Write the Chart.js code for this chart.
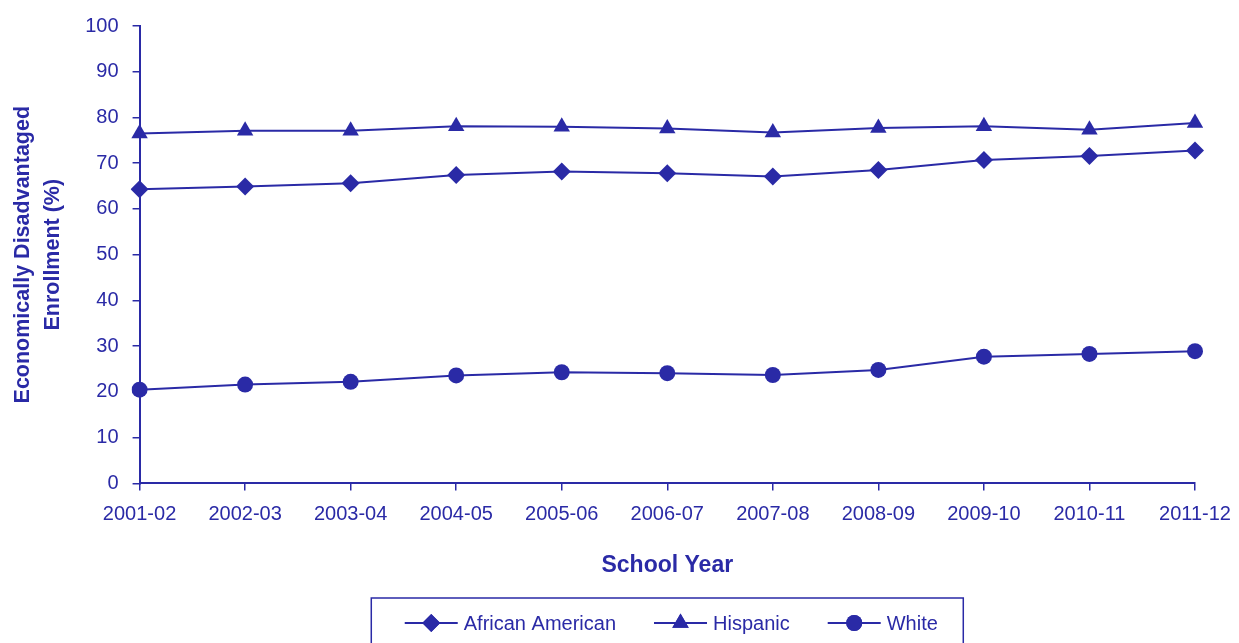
<!DOCTYPE html>
<html>
<head>
<meta charset="utf-8">
<script src="https://cdn.jsdelivr.net/npm/chart.js@4/dist/chart.umd.min.js"></script>
<style>
  html, body { margin: 0; padding: 0; background: #fff; }
  #wrap { width: 1239px; height: 643px; }
</style>
</head>
<body>
<div id="wrap"><canvas id="enrollChart" width="1239" height="643"></canvas></div>
<script>
var schoolYears = ['2001-02', '2002-03', '2003-04', '2004-05', '2005-06', '2006-07',
                   '2007-08', '2008-09', '2009-10', '2010-11', '2011-12'];
var africanAmerican = [64.3, 64.9, 65.6, 67.4, 68.2, 67.8, 67.1, 68.5, 70.7, 71.6, 72.8];
var hispanic = [76.5, 77.1, 77.1, 78.1, 78.0, 77.6, 76.7, 77.7, 78.1, 77.3, 78.8];
var white = [20.5, 21.6, 22.2, 23.6, 24.3, 24.1, 23.7, 24.8, 27.7, 28.3, 28.9];
var yTicks = [0, 10, 20, 30, 40, 50, 60, 70, 80, 90, 100];

var blue = '#2a2aa6';
var fontName = '"Liberation Sans", Arial, sans-serif';

// boxed legend under the chart, line through the marker like the original
var boxLegend = {
    id: 'boxLegend',
    afterDraw: function(chart) {
        var c = chart.ctx;
        var area = chart.chartArea;
        var sets = chart.data.datasets;
        var boxW = 592, boxTop = 598, midY = 623;
        var boxLeft = (area.left + area.right) / 2 - boxW / 2;
        c.save();
        c.strokeStyle = blue;
        c.lineWidth = 1.5;
        c.strokeRect(boxLeft, boxTop, boxW, 80);
        c.font = '20px ' + fontName;
        c.textBaseline = 'middle';
        var lineLen = 53, gap = 6, spacing = 38;
        var total = 0;
        sets.forEach(function(ds, i) {
            total += lineLen + gap + c.measureText(ds.label).width;
            if (i < sets.length - 1) total += spacing;
        });
        var x = boxLeft + 36 + (boxW - 64 - total) / 2;
        sets.forEach(function(ds) {
            c.strokeStyle = blue;
            c.lineWidth = 2;
            c.beginPath();
            c.moveTo(x, midY);
            c.lineTo(x + lineLen, midY);
            c.stroke();
            c.fillStyle = blue;
            Chart.helpers.drawPoint(c, {pointStyle: ds.pointStyle, radius: ds.pointRadius, borderWidth: 0}, x + lineLen / 2, midY);
            c.fill();
            c.fillText(ds.label, x + lineLen + gap, midY + 1);
            x += lineLen + gap + c.measureText(ds.label).width + spacing;
        });
        c.restore();
    }
};

var ctx = document.getElementById('enrollChart').getContext('2d');
var chart = new Chart(ctx, {
    type: 'line',
    data: {
        labels: schoolYears,
        datasets: [{
            label: 'African American',
            data: africanAmerican,
            pointStyle: 'rectRot',
            pointRadius: 9
        }, {
            label: 'Hispanic',
            data: hispanic,
            pointStyle: 'triangle',
            pointRadius: 9.5
        }, {
            label: 'White',
            data: white,
            pointStyle: 'circle',
            pointRadius: 8
        }].map(function(ds) {
            ds.borderColor = blue;
            ds.backgroundColor = blue;
            ds.borderWidth = 2;
            ds.pointBorderWidth = 0;
            ds.tension = 0;
            return ds;
        })
    },
    plugins: [boxLegend],
    options: {
        responsive: false,
        animation: false,
        layout: { padding: { left: 8, top: 14, right: 44, bottom: 64 } },
        plugins: {
            legend: { display: false },
            tooltip: { enabled: false }
        },
        scales: {
            x: {
                type: 'category',
                offset: false,
                afterFit: function(scale) {
                    scale.paddingRight = 0;
                },
                grid: { drawOnChartArea: false, drawTicks: true, tickLength: 7, color: blue, lineWidth: 1.5 },
                border: { color: blue, width: 2 },
                ticks: { color: blue, font: { family: fontName, size: 20 }, padding: 12, maxRotation: 0, autoSkip: false },
                title: { display: true, text: 'School Year', color: blue,
                         font: { family: fontName, size: 23, weight: 'bold' }, padding: { top: 13, bottom: 0 } }
            },
            y: {
                min: 0,
                max: 100,
                afterBuildTicks: function(scale) {
                    scale.ticks = yTicks.map(function(v) { return { value: v }; });
                },
                grid: { drawOnChartArea: false, drawTicks: true, tickLength: 7, color: blue, lineWidth: 1.5 },
                border: { color: blue, width: 2 },
                ticks: { color: blue, font: { family: fontName, size: 20 }, padding: 14 },
                title: { display: true, text: ['Economically Disadvantaged', 'Enrollment (%)'], color: blue,
                         font: { family: fontName, size: 21.5, weight: 'bold', lineHeight: 1.4 }, padding: { top: 0, bottom: 3 } }
            }
        }
    }
});
</script>
</body>
</html>
